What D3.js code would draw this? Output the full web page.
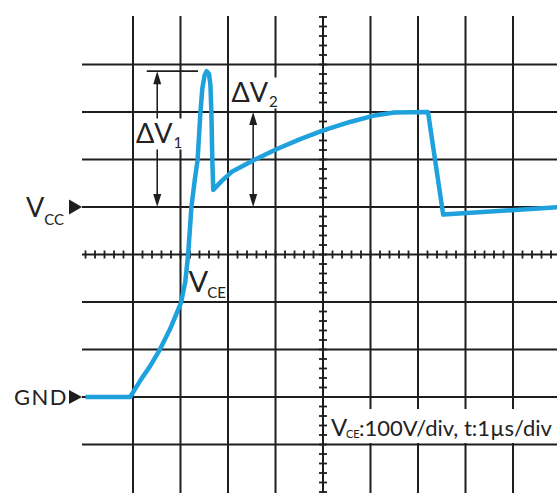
<!DOCTYPE html>
<html>
<head>
<meta charset="utf-8">
<script src="https://cdn.jsdelivr.net/npm/d3@7"></script>
<style>
  body { margin: 0; background: #fff; }
  svg { display: block; }
  text { font-family: Lato, "Open Sans", sans-serif; fill: #222; }
</style>
</head>
<body>
<div id="chart"></div>
<script>
var width = 557;
var height = 493;

// trace: time in us, V_CE in volts
var timeUs = [0, 0.94, 1.15, 1.36, 1.55, 1.78, 2.01, 2.10, 2.16, 2.23, 2.30, 2.36, 2.42, 2.46, 2.51, 2.55, 2.60, 2.63, 2.65, 2.67, 2.69,
  2.87, 3.08, 3.51, 4.03, 4.52, 5.02, 5.57, 6.05, 6.50, 7.21, 7.53, 10];
var vceV = [0, 0, 34, 65, 97, 143, 198, 242, 299, 400, 457, 499, 600, 650, 678, 686, 680, 657, 602, 499, 436,
  455, 474, 497, 522, 543, 562, 579, 592, 599, 600, 384, 400];

var timeGrid = [1, 2, 3, 4, 5, 6, 7, 8, 9];
var voltGrid = [-100, 0, 100, 200, 300, 400, 500, 600, 700];
var vccLevel = 400;
var gndLevel = 0;
var dv1 = { t: 1.51, from: 686, to: 400 };
var dv2 = { t: 3.53, from: 600, to: 400 };

var x = d3.scaleLinear().domain([0, 10]).range([85.5, 560.5]);
var y = d3.scaleLinear().domain([-200, 800]).range([492, 17]);

var svg = d3.select("#chart")
  .append("svg")
  .attr("width", width)
  .attr("height", height);

var ink = "#1e1e1e";

// grid
svg.append("g").selectAll("line")
  .data(timeGrid)
  .enter().append("line")
  .attr("x1", d => x(d)).attr("x2", d => x(d))
  .attr("y1", 16).attr("y2", height)
  .attr("stroke", ink).attr("stroke-width", 2);

svg.append("g").selectAll("line")
  .data(voltGrid)
  .enter().append("line")
  .attr("x1", 82).attr("x2", width)
  .attr("y1", d => y(d)).attr("y2", d => y(d))
  .attr("stroke", ink).attr("stroke-width", 2);

// minor ticks on the centre axes
svg.append("g").selectAll("line")
  .data(d3.range(0, 51).map(i => i * 0.2))
  .enter().append("line")
  .attr("x1", d => x(d)).attr("x2", d => x(d))
  .attr("y1", y(300) - 4).attr("y2", y(300) + 4)
  .attr("stroke", ink).attr("stroke-width", 1.8);

svg.append("g").selectAll("line")
  .data(d3.range(0, 51).map(i => -200 + i * 20))
  .enter().append("line")
  .attr("x1", x(5) - 4).attr("x2", x(5) + 4)
  .attr("y1", d => y(d)).attr("y2", d => y(d))
  .attr("stroke", ink).attr("stroke-width", 1.8);

// delta V annotations
function arrow(a) {
  var g = svg.append("g");
  var xa = x(a.t), y1 = y(a.from), y2 = y(a.to);
  g.append("line")
    .attr("x1", xa).attr("x2", xa)
    .attr("y1", y1 + 6).attr("y2", y2 - 6)
    .attr("stroke", ink).attr("stroke-width", 1.6);
  g.append("path")
    .attr("d", "M" + xa + "," + y1 + "l-4,13l8,0z")
    .attr("fill", ink);
  g.append("path")
    .attr("d", "M" + xa + "," + y2 + "l-4,-13l8,0z")
    .attr("fill", ink);
  return g;
}
arrow(dv1);
arrow(dv2);

svg.append("line")
  .attr("x1", x(1.29)).attr("x2", x(2.37))
  .attr("y1", y(dv1.from)).attr("y2", y(dv1.from))
  .attr("stroke", ink).attr("stroke-width", 1.6);

function subLabel(px, py, main, sub, size, subSize, subDx, subDy, bg) {
  var g = svg.append("g");
  var t = g.append("text").attr("x", px).attr("y", py)
    .style("font-size", size + "px").text(main);
  var w = t.node().getComputedTextLength();
  g.append("text").attr("x", px + w + subDx).attr("y", py + subDy)
    .style("font-size", subSize + "px").text(sub);
  if (bg) {
    var b = g.node().getBBox();
    g.insert("rect", "text")
      .attr("x", b.x - 1).attr("y", b.y + 3)
      .attr("width", b.width + 2).attr("height", b.height - 4)
      .attr("fill", "#fff");
  }
  return g;
}

subLabel(136, 142.5, "\u0394V", "1", 27, 15, 1, 5, true);
subLabel(231.5, 101.5, "\u0394V", "2", 27, 15, 1, 5, true);

// the trace
var line = d3.line()
  .x((d, i) => x(timeUs[i]))
  .y(d => y(d));

svg.append("path")
  .datum(vceV)
  .attr("d", line)
  .attr("fill", "none")
  .attr("stroke", "#1ea1dc")
  .attr("stroke-width", 4.5)
  .attr("stroke-linejoin", "round");

// level markers
subLabel(26, y(vccLevel) + 10, "V", "CC", 27, 15, 0, 8, false);
svg.append("path")
  .attr("d", "M" + (x(0) - 3.5) + "," + y(vccLevel) + "l-13,-7.5l0,15z")
  .attr("fill", ink);

svg.append("text")
  .attr("x", 68).attr("y", y(gndLevel) + 8)
  .attr("text-anchor", "end")
  .style("font-size", "22px")
  .style("letter-spacing", "1.5px")
  .text("GND");
svg.append("path")
  .attr("d", "M" + (x(0) - 3.5) + "," + y(gndLevel) + "l-13,-7l0,14z")
  .attr("fill", ink);

subLabel(188.5, 292, "V", "CE", 29, 15, -1, 6, false);

// scale caption
svg.append("rect")
  .attr("x", 329).attr("y", 409)
  .attr("width", width - 329).attr("height", 34)
  .attr("fill", "#fff");
var cap = svg.append("g");
cap.append("text").attr("x", 331).attr("y", 436).style("font-size", "24px").text("V");
cap.append("text").attr("x", 346).attr("y", 438).style("font-size", "11px").text("CE");
cap.append("text").attr("x", 359).attr("y", 436).style("font-size", "22px").text(":100V/div, t:1\u00b5s/div");
</script>
</body>
</html>
